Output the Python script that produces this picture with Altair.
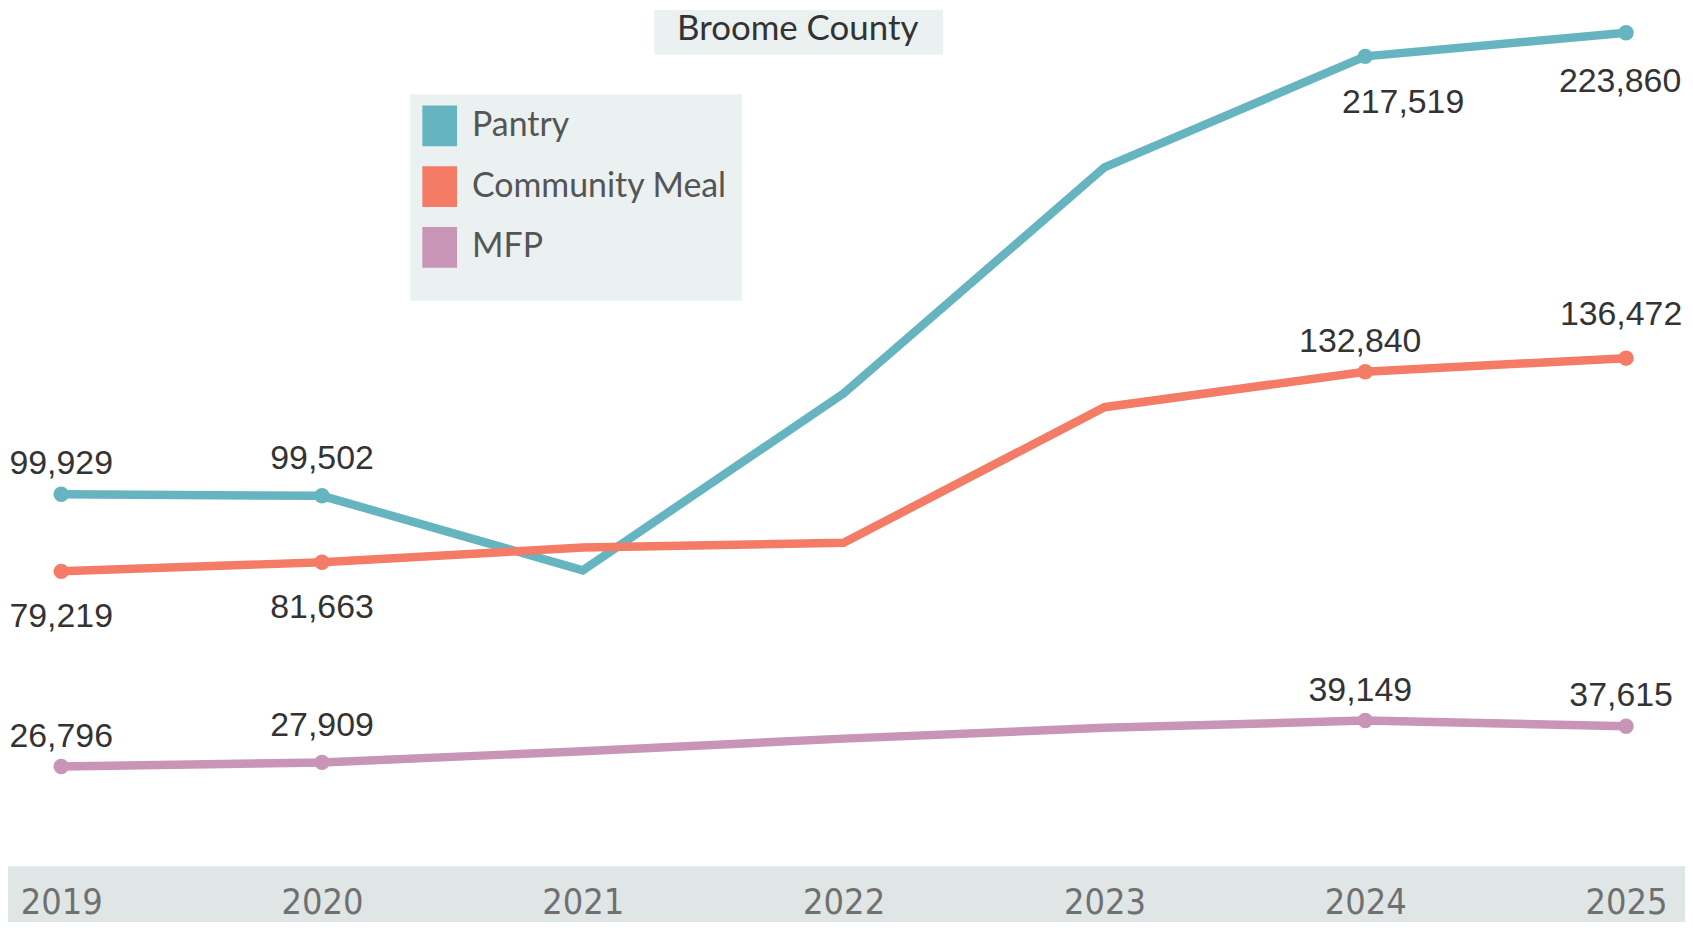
import altair as alt
import pandas as pd

# ---- data ----
YEARS = [2019, 2020, 2021, 2022, 2023, 2024, 2025]
SERIES = ["Pantry", "Community Meal", "MFP"]
PANTRY = [99929, 99502, 79500, 127000, 187700, 217519, 223860]
COMMUNITY_MEAL = [79219, 81663, 85600, 86900, 123300, 132840, 136472]
MFP = [26796, 27909, 30900, 34300, 37200, 39149, 37615]
COLORS = ["#66b4c0", "#f47b66", "#c895b7"]
LABELED = [True, True, False, False, False, True, True]
PANTRY_POS = ["above", "above_high", "", "", "", "below_right", "below_edge"]
COMMUNITY_MEAL_POS = ["below", "below", "", "", "", "above_left", "above_left_high"]
MFP_POS = ["above", "above_high", "", "", "", "above_left", "above_left"]
TITLE = "Broome County"

rows = []
for name, vals, pos in [("Pantry", PANTRY, PANTRY_POS),
                        ("Community Meal", COMMUNITY_MEAL, COMMUNITY_MEAL_POS),
                        ("MFP", MFP, MFP_POS)]:
    for yr, v, lab, p in zip(YEARS, vals, LABELED, pos):
        rows.append({"year": yr, "series": name, "value": v, "labeled": lab, "pos": p})
df = pd.DataFrame(rows)

W = 1684
H = 860
BOTTOM = 56
LABEL_FONT = "Liberation Sans, Arial, sans-serif"
UI_FONT = "Lato, Open Sans, sans-serif"
PANEL_BG = "#eaf1f0"

x = alt.X("year:Q",
          scale=alt.Scale(domain=[2018.796, 2025.226], nice=False, zero=False),
          axis=alt.Axis(values=YEARS, format="d", title=None, domain=False, ticks=False,
                        tickSize=0, grid=False, labelFontSize=36,
                        labelFont="Liberation Sans Narrow, DejaVu Sans Condensed, Roboto, sans-serif",
                        labelColor="#707070", labelPadding=47, labelFlush=False,
                        labelBaseline="alphabetic", zindex=1))
y = alt.Y("value:Q", scale=alt.Scale(domain=[0, 230000], nice=False, zero=True), axis=None)
color_enc = alt.Color("series:N", scale=alt.Scale(domain=SERIES, range=COLORS),
                      sort=SERIES,
                      legend=alt.Legend(orient="none", legendX=413, legendY=96,
                                        direction="vertical", title=None,
                                        symbolType="M-0.85,-1H0.85V1H-0.85Z",
                                        symbolSize=1681,
                                        symbolStrokeWidth=0,
                                        labelFontSize=34, labelFont=UI_FONT,
                                        labelColor="#555555", labelOffset=12,
                                        labelLimit=400, rowPadding=20, padding=0))

base = alt.Chart(df)

band = alt.Chart(alt.Data(values=[{"k": 0}])).mark_rect(color="#dfe6e5").encode(
    x=alt.value(0), x2=alt.value(W), y=alt.value(H), y2=alt.value(H + BOTTOM))

legend_box = alt.Chart(alt.Data(values=[{"k": 0}])).mark_rect(color=PANEL_BG).encode(
    x=alt.value(404), x2=alt.value(737), y=alt.value(85), y2=alt.value(292))

lines = base.mark_line(strokeWidth=8.5).encode(x=x, y=y, color=color_enc)

points = base.transform_filter("datum.labeled").mark_circle(size=240, opacity=1).encode(
    x=x, y=y, color=color_enc)

text_kw = dict(fontSize=34, font=LABEL_FONT, color="#333333", baseline="alphabetic")
PLACEMENTS = {"above": (0, -20), "above_high": (0, -27), "below": (0, 56),
              "below_right": (38, 57), "below_edge": (-6, 59),
              "above_left": (-5, -20), "above_left_high": (-5, -33)}
label_layers = []
for key, (ddx, ddy) in PLACEMENTS.items():
    label_layers.append(
        base.transform_filter(f"datum.pos == '{key}'").mark_text(dx=ddx, dy=ddy, **text_kw).encode(
            x=x, y=y, text=alt.Text("value:Q", format=",")))

title_data = alt.Data(values=[{"t": TITLE}])
title_box = alt.Chart(title_data).mark_rect(color=PANEL_BG).encode(
    x=alt.value(649), x2=alt.value(939), y=alt.value(0), y2=alt.value(45))
title_text = alt.Chart(title_data).mark_text(font=UI_FONT, fontSize=35, color="#333333",
                                             align="center", baseline="alphabetic").encode(
    x=alt.value(793), y=alt.value(30), text="t:N")

chart = alt.layer(band, legend_box, lines, points, *label_layers, title_box, title_text).properties(
    width=W, height=H,
    autosize=alt.AutoSizeParams(type="none"),
    padding={"left": 0, "top": 0, "right": 0, "bottom": BOTTOM},
).configure_view(stroke=None)

chart.save("out.html", embed_options={"renderer": "svg", "actions": False})
